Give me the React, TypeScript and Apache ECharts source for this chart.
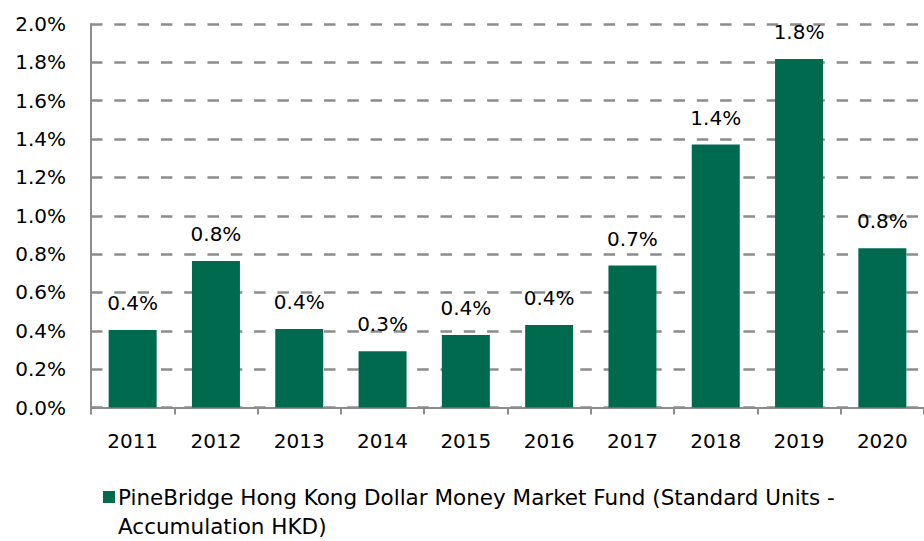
import React, { useEffect, useRef } from "react";
import * as echarts from "echarts";

const categories = ["2011", "2012", "2013", "2014", "2015", "2016", "2017", "2018", "2019", "2020"];
const values = [0.404, 0.764, 0.409, 0.293, 0.378, 0.43, 0.74, 1.371, 1.817, 0.83];
const seriesName = "PineBridge Hong Kong Dollar Money Market Fund (Standard Units - Accumulation HKD)";
const legendLines = ["PineBridge Hong Kong Dollar Money Market Fund (Standard Units -", "Accumulation HKD)"];

const FONT = "'DejaVu Sans', 'Open Sans', sans-serif";
const GREEN = "#006a4f";
const GRAY = "#8c8c8c";

export default function App() {
  const ref = useRef<HTMLDivElement>(null);
  useEffect(() => {
    if (!ref.current) return;
    const chart = echarts.init(ref.current, null, { renderer: "svg" });
    chart.setOption({
      animation: false,
      backgroundColor: "#ffffff",
      textStyle: { fontFamily: FONT },
      grid: { left: 91, top: 24, width: 840, height: 383.5, containLabel: false },
      xAxis: {
        type: "category",
        data: categories,
        axisLine: { lineStyle: { color: GRAY, width: 2 } },
        axisTick: { show: true, length: 7, lineStyle: { color: GRAY, width: 2 } },
        axisLabel: { color: "#000", fontSize: 20, margin: 23, fontFamily: FONT },
        splitLine: { show: false },
      },
      yAxis: {
        type: "value",
        min: 0,
        max: 2,
        interval: 0.2,
        axisLine: { show: true, lineStyle: { color: GRAY, width: 2 } },
        axisTick: { show: false },
        axisLabel: {
          color: "#000",
          fontSize: 20,
          margin: 25,
          fontFamily: FONT,
          formatter: (v: number) => v.toFixed(1) + "%",
        },
        splitLine: { show: true, lineStyle: { color: GRAY, width: 2.6, type: [11.5, 11.8] } },
      },
      series: [
        {
          name: seriesName,
          type: "bar",
          data: values,
          barWidth: 48,
          itemStyle: { color: GREEN },
          label: {
            show: true,
            position: "top",
            distance: 17,
            color: "#000",
            fontSize: 20,
            fontFamily: FONT,
            formatter: (p: any) => (p.value as number).toFixed(1) + "%",
          },
        },
      ],
      graphic: [
        { type: "rect", left: 103, top: 491, shape: { width: 12, height: 12 }, style: { fill: GREEN } },
        {
          type: "text",
          left: 118,
          top: 483,
          style: {
            text: legendLines.join("\n"),
            fill: "#000",
            font: `21.5px ${FONT}`,
            lineHeight: 29,
          },
        },
      ],
    });
    return () => chart.dispose();
  }, []);
  return <div ref={ref} style={{ width: 924, height: 541, position: "absolute", left: 0, top: 0 }} />;
}
